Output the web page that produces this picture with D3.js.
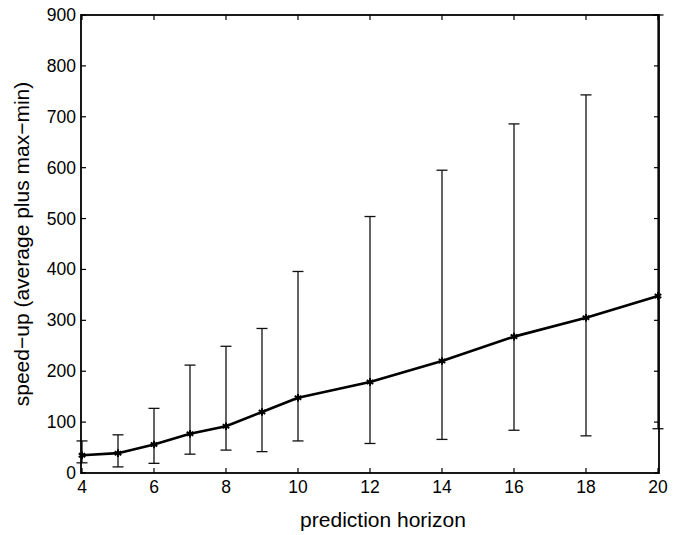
<!DOCTYPE html>
<html>
<head>
<meta charset="utf-8">
<script src="https://cdn.jsdelivr.net/npm/d3@7"></script>
<style>
  body { margin: 0; background: #fff; }
  svg text { font-family: "Liberation Sans", Arial, sans-serif; fill: #000; }
</style>
</head>
<body>
<div id="chart"></div>
<script>
const horizons = [4, 5, 6, 7, 8, 9, 10, 12, 14, 16, 18, 20];
const avgSpeedup = [35, 39, 56, 77, 92, 120, 148, 179, 220, 268, 305, 348];
const maxSpeedup = [63, 75, 127, 212, 249, 284, 396, 504, 595, 686, 743, 900];
const minSpeedup = [20, 12, 19, 37, 45, 42, 63, 58, 66, 84, 73, 87];
const xTicks = [4, 6, 8, 10, 12, 14, 16, 18, 20];
const yTicks = [0, 100, 200, 300, 400, 500, 600, 700, 800, 900];

const width = 682, height = 535;
const margin = {left: 81, right: 23, top: 15, bottom: 62};

const svg = d3.select("#chart").append("svg")
    .attr("width", width)
    .attr("height", height);

const x = d3.scaleLinear().domain([4, 20]).range([margin.left + 1, width - margin.right - 1]);
const y = d3.scaleLinear().domain([0, 900]).range([height - margin.bottom, margin.top]);

const x0 = margin.left, x1 = width - margin.right;
const y0 = height - margin.bottom, y1 = margin.top;
const tickLen = 5;

const data = horizons.map((h, i) => ({h, avg: avgSpeedup[i], max: maxSpeedup[i], min: minSpeedup[i]}));

// error bars
const bars = svg.append("g").attr("class", "errorBars")
    .attr("stroke", "#111")
    .attr("stroke-width", 1.3);

data.forEach((d) => {
    bars.append("line").attr("x1", x(d.h)).attr("x2", x(d.h)).attr("y1", y(d.min)).attr("y2", y(d.max));
    bars.append("line").attr("x1", x(d.h) - 5.5).attr("x2", x(d.h) + 5.5).attr("y1", y(d.min)).attr("y2", y(d.min));
    bars.append("line").attr("x1", x(d.h) - 5.5).attr("x2", x(d.h) + 5.5).attr("y1", y(d.max)).attr("y2", y(d.max));
});

// average line
const line = d3.line().x((d) => x(d.h)).y((d) => y(d.avg));
svg.append("path")
    .datum(data)
    .attr("fill", "none")
    .attr("stroke", "#000")
    .attr("stroke-width", 2.6)
    .attr("stroke-linejoin", "round")
    .attr("d", line);

// star markers
const star = d3.symbol().type(d3.symbolAsterisk).size(40);
svg.append("g").selectAll("path")
    .data(data)
    .join("path")
    .attr("transform", (d) => `translate(${x(d.h)},${y(d.avg)})`)
    .attr("d", star)
    .attr("fill", "none")
    .attr("stroke", "#000")
    .attr("stroke-width", 2);

// axes box
const axisG = svg.append("g").attr("stroke", "#000");
axisG.append("rect")
    .attr("x", x0).attr("y", y1)
    .attr("width", x1 - x0).attr("height", y0 - y1)
    .attr("fill", "none")
    .attr("stroke-width", 1.8);

xTicks.forEach((t) => {
    axisG.append("line").attr("x1", x(t)).attr("x2", x(t)).attr("y1", y0).attr("y2", y0 - tickLen).attr("stroke-width", 1.2);
    axisG.append("line").attr("x1", x(t)).attr("x2", x(t)).attr("y1", y1).attr("y2", y1 + tickLen).attr("stroke-width", 1.2);
});
yTicks.forEach((t) => {
    axisG.append("line").attr("x1", x0).attr("x2", x0 + tickLen).attr("y1", y(t)).attr("y2", y(t)).attr("stroke-width", 1.2);
    axisG.append("line").attr("x1", x1).attr("x2", x1 - tickLen).attr("y1", y(t)).attr("y2", y(t)).attr("stroke-width", 1.2);
});

// tick labels
svg.append("g").selectAll("text")
    .data(xTicks)
    .join("text")
    .attr("x", (d) => x(d))
    .attr("y", y0 + 20)
    .attr("text-anchor", "middle")
    .attr("font-size", 17.5)
    .text((d) => d);

svg.append("g").selectAll("text")
    .data(yTicks)
    .join("text")
    .attr("x", x0 - 5)
    .attr("y", (d) => y(d) + 6)
    .attr("text-anchor", "end")
    .attr("font-size", 17.5)
    .text((d) => d);

// axis titles
svg.append("text")
    .attr("x", 383)
    .attr("y", 527)
    .attr("text-anchor", "middle")
    .attr("font-size", 21)
    .text("prediction horizon");

svg.append("text")
    .attr("transform", `translate(29,${(y0 + y1) / 2}) rotate(-90)`)
    .attr("text-anchor", "middle")
    .attr("font-size", 21)
    .text("speed\u2212up (average plus max\u2212min)");
</script>
</body>
</html>
